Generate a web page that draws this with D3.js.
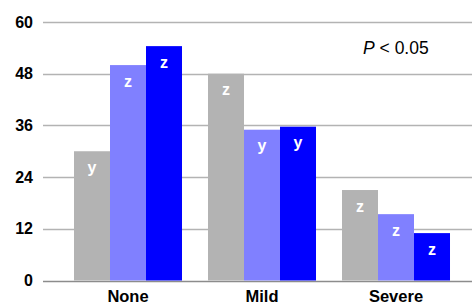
<!DOCTYPE html>
<html>
<head>
<meta charset="utf-8">
<script src="https://cdn.jsdelivr.net/npm/d3@7"></script>
<style>
  body { margin: 0; background: #fff; }
  svg { display: block; font-family: "Liberation Sans", Arial, sans-serif; }
</style>
</head>
<body>
<svg id="chart" width="472" height="306"></svg>
<script>
// Chart data
const categories = ['None', 'Mild', 'Severe'];
const seriesNames = ['s1', 's2', 's3'];
const seriesValues = [
  [30, 48, 21],      // gray
  [50, 35, 15.4],    // light blue
  [54.4, 35.7, 11]   // blue
];
const barLabels = [
  ['y', 'z', 'z'],
  ['z', 'y', 'z'],
  ['z', 'y', 'z']
];
const yTicks = [0, 12, 24, 36, 48, 60];
const colors = ['#b3b3b3', '#8080ff', '#0000ff'];

const svg = d3.select('#chart');

// Scales
const y = d3.scaleLinear().domain([0, 60]).range([280.5, 22]);
const x0 = d3.scaleBand().domain(categories).range([61, 463])
  .paddingInner(0.194).paddingOuter(0.097);
const x1 = d3.scaleBand().domain(seriesNames).range([0, x0.bandwidth()]);

// Gridlines
svg.append('g').selectAll('line')
  .data(yTicks)
  .join('line')
  .attr('x1', 43)
  .attr('x2', 472)
  .attr('y1', d => Math.round(y(d)) + 0.5)
  .attr('y2', d => Math.round(y(d)) + 0.5)
  .attr('stroke', d => d === 0 ? '#8c8c8c' : '#b3b3b3')
  .attr('stroke-width', 1.5);

// Y axis tick labels
svg.append('g').selectAll('text')
  .data(yTicks)
  .join('text')
  .attr('x', 33)
  .attr('y', d => y(d) + 5.5)
  .attr('text-anchor', 'end')
  .attr('font-size', 16)
  .attr('font-weight', 'bold')
  .text(d => d);

// Bars
const rows = [];
categories.forEach((c, ci) => {
  seriesNames.forEach((s, si) => {
    rows.push({ cat: c, series: s, si, value: seriesValues[si][ci], label: barLabels[si][ci] });
  });
});

const groups = svg.append('g');
groups.selectAll('rect')
  .data(rows)
  .join('rect')
  .attr('x', d => x0(d.cat) + x1(d.series))
  .attr('y', d => y(d.value))
  .attr('width', x1.bandwidth())
  .attr('height', d => y(0) - y(d.value))
  .attr('fill', d => colors[d.si]);

groups.selectAll('text')
  .data(rows)
  .join('text')
  .attr('x', d => x0(d.cat) + x1(d.series) + x1.bandwidth() / 2)
  .attr('y', d => y(d.value) + 21.5)
  .attr('text-anchor', 'middle')
  .attr('font-size', 16)
  .attr('font-weight', 'bold')
  .attr('fill', '#fff')
  .text(d => d.label);

// Category labels
svg.append('g').selectAll('text')
  .data(categories)
  .join('text')
  .attr('x', d => x0(d) + x0.bandwidth() / 2)
  .attr('y', 301.5)
  .attr('text-anchor', 'middle')
  .attr('font-size', 16.5)
  .attr('font-weight', 'bold')
  .text(d => d);

// Significance note
const note = svg.append('text')
  .attr('x', 363)
  .attr('y', 54)
  .attr('font-size', 17.5);
note.append('tspan').attr('font-style', 'italic').text('P');
note.append('tspan').text(' < 0.05');
</script>
</body>
</html>
